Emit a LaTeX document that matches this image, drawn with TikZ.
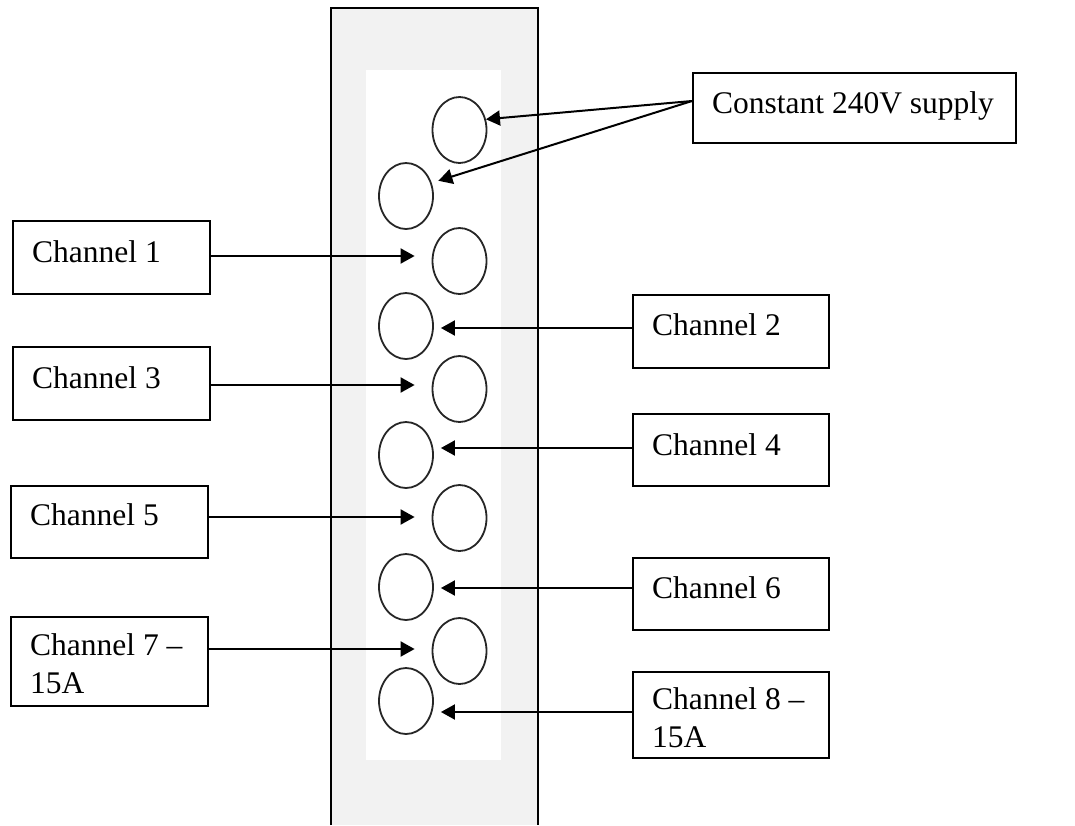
\documentclass[tikz,border=0pt]{standalone}
\usepackage{fontspec}
\setmainfont{Liberation Serif}
\usetikzlibrary{arrows.meta,shapes.geometric}
\definecolor{panelgray}{HTML}{F2F2F2}
\tikzset{
  box/.style={draw=black, line width=2pt, fill=white, rectangle, inner sep=0pt, anchor=north west},
  lbl/.style={inner sep=0pt, font=\fontsize{31.5}{38.5}\selectfont, align=left, anchor=base west},
  socket/.style={draw=black!85, line width=1.8pt, ellipse, minimum width=54pt, minimum height=66pt, inner sep=0pt},
  arr/.style={line width=2pt, -{Triangle[length=14pt,width=15pt]}},
}
\begin{document}
\begin{tikzpicture}[x=1pt,y=-1pt]
\useasboundingbox (0,0) rectangle (1075,825);
% panel
\fill[panelgray] (331,8) rectangle (538,825);
\fill[white] (366,70) rectangle (501,760);
\draw[line width=2pt] (331,825) -- (331,8) -- (538,8) -- (538,825);
% sockets
\node[socket] (e1) at (459.5,130) {};
\node[socket] (e2) at (406,196) {};
\node[socket] (e3) at (459.5,261) {};
\node[socket] (e4) at (406,326) {};
\node[socket] (e5) at (459.5,389) {};
\node[socket] (e6) at (406,455) {};
\node[socket] (e7) at (459.5,518) {};
\node[socket] (e8) at (406,587) {};
\node[socket] (e9) at (459.5,651) {};
\node[socket] (e10) at (406,701) {};
% boxes
\node[box, minimum width=323pt, minimum height=70pt] (sup) at (692,72) {};
\node[box, minimum width=197pt, minimum height=73pt] (c1) at (12,220) {};
\node[box, minimum width=196pt, minimum height=73pt] (c2) at (632,294) {};
\node[box, minimum width=197pt, minimum height=73pt] (c3) at (12,346) {};
\node[box, minimum width=196pt, minimum height=72pt] (c4) at (632,413) {};
\node[box, minimum width=197pt, minimum height=72pt] (c5) at (10,485) {};
\node[box, minimum width=196pt, minimum height=72pt] (c6) at (632,557) {};
\node[box, minimum width=197pt, minimum height=89pt] (c7) at (10,616) {};
\node[box, minimum width=196pt, minimum height=86pt] (c8) at (632,671) {};
% labels
\node[lbl] (tsup) at (712,113) {Constant 240V supply};
\node[lbl] (t1) at (32,262) {Channel 1};
\node[lbl] (t2) at (652,335) {Channel 2};
\node[lbl] (t3) at (32,388) {Channel 3};
\node[lbl] (t4) at (652,455) {Channel 4};
\node[lbl] (t5) at (30,525) {Channel 5};
\node[lbl] (t6) at (652,598) {Channel 6};
\node[lbl, anchor=north west] (t7) at (30,633) {Channel 7 –\\15A};
\node[lbl, anchor=north west] (t8) at (652,687) {Channel 8 –\\15A};
% connectors
\coordinate (s) at (692,101);
\draw[arr] (s) -- (e1.22);
\draw[arr, shorten >=7pt] (s) -- (e2.27);
\draw[arr, shorten >=17pt] (c1.east |- 0,256) -- (e3.west |- 0,256);
\draw[arr, shorten >=7pt] (c2.west |- 0,328) -- (e4.east |- 0,328);
\draw[arr, shorten >=17pt] (c3.east |- 0,385) -- (e5.west |- 0,385);
\draw[arr, shorten >=7pt] (c4.west |- 0,448) -- (e6.east |- 0,448);
\draw[arr, shorten >=17pt] (c5.east |- 0,517) -- (e7.west |- 0,517);
\draw[arr, shorten >=7pt] (c6.west |- 0,588) -- (e8.east |- 0,588);
\draw[arr, shorten >=17pt] (c7.east |- 0,649) -- (e9.west |- 0,649);
\draw[arr, shorten >=7pt] (c8.west |- 0,712) -- (e10.east |- 0,712);
\end{tikzpicture}
\end{document}
